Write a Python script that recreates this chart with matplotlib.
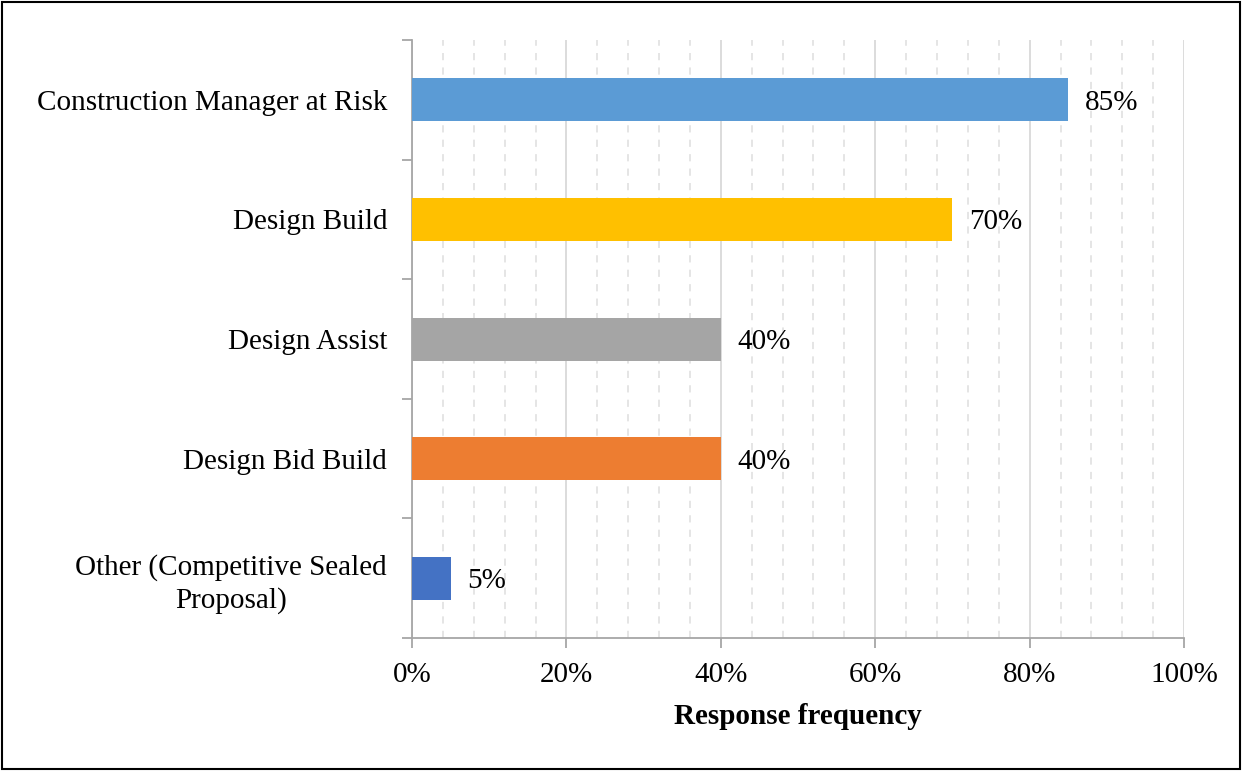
import matplotlib.pyplot as plt
from matplotlib.patches import Rectangle
from matplotlib.ticker import MultipleLocator, FixedLocator, PercentFormatter

categories = ["Other (Competitive Sealed\nProposal)", "Design Bid Build", "Design Assist",
              "Design Build", "Construction Manager at Risk"]
values = [5, 40, 40, 70, 85]
colors = ["#4472C4", "#ED7D31", "#A5A5A5", "#FFC000", "#5B9BD5"]

plt.rcParams['font.family'] = ['Liberation Serif', 'DejaVu Serif']
FS = 21

fig = plt.figure(figsize=(12.44, 7.71), dpi=100)
ax = fig.add_axes([0.3312, 0.1725, 0.6206, 0.7755])

pos = list(range(len(categories)))
ax.barh(pos, values, height=0.36, color=colors, zorder=3)
for p, v in zip(pos, values):
    ax.text(v + 2.1, p, f"{v}%", va="center_baseline", ha="left", fontsize=FS)

ax.set_xlim(0, 100)
ax.set_ylim(-0.5, len(categories) - 0.5)
ax.xaxis.set_major_locator(MultipleLocator(20))
ax.xaxis.set_minor_locator(MultipleLocator(4))
ax.xaxis.set_major_formatter(PercentFormatter(decimals=0))
ax.grid(axis="x", which="major", color="#D9D9D9", linewidth=1.3, zorder=0)
ax.grid(axis="x", which="minor", color="#E3E3E3", linewidth=1.3, linestyle=(0, (4, 4)), zorder=0)

ax.set_yticks(pos)
ax.set_yticklabels(categories, fontsize=FS, ha="right", multialignment="center", linespacing=1.3)
ax.yaxis.set_minor_locator(FixedLocator([i - 0.5 for i in range(len(categories) + 1)]))
ax.tick_params(axis="y", which="major", length=0, pad=18)
ax.tick_params(axis="y", which="minor", length=7, color="#A6A6A6", width=1.3)
ax.tick_params(axis="x", which="major", length=7, color="#A6A6A6", width=1.3, labelsize=FS, pad=10)
ax.tick_params(axis="x", which="minor", length=0)

for s in ["top", "right"]:
    ax.spines[s].set_visible(False)
for s in ["left", "bottom"]:
    ax.spines[s].set_color("#A6A6A6")
    ax.spines[s].set_linewidth(1.3)

ax.set_xlabel("Response frequency", fontsize=FS, fontweight="bold", labelpad=11)

fig.patches.append(Rectangle((0.002, 0.003), 0.995, 0.994, transform=fig.transFigure,
                             fill=False, edgecolor="black", linewidth=1.5))

fig.savefig("out.png", dpi=100)
